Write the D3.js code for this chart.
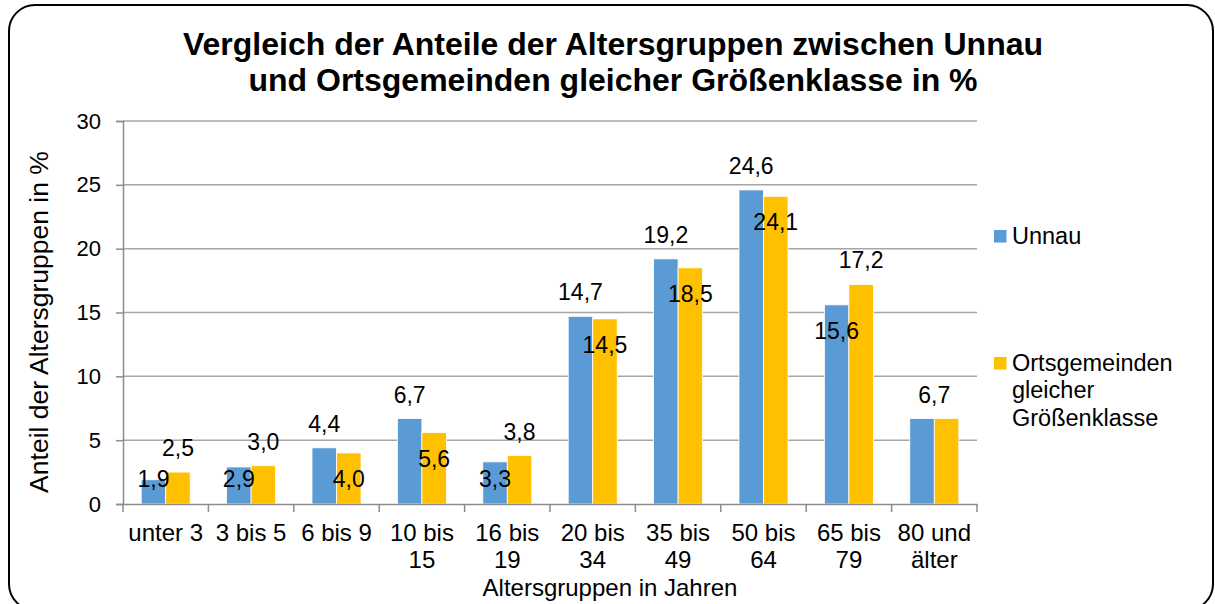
<!DOCTYPE html>
<html>
<head>
<meta charset="utf-8">
<script src="https://cdn.jsdelivr.net/npm/d3@7"></script>
<style>
  body { margin: 0; background: #fff; }
  svg { font-family: Arial, "Liberation Sans", sans-serif; }
</style>
</head>
<body>
<svg id="chart" width="1215" height="604"></svg>
<script>
var categories = ["unter 3", "3 bis 5", "6 bis 9", "10 bis 15", "16 bis 19", "20 bis 34", "35 bis 49", "50 bis 64", "65 bis 79", "80 und älter"]
var seriesNames = ["Unnau", "Ortsgemeinden gleicher Größenklasse"]
var unnau = [1.9, 2.9, 4.4, 6.7, 3.3, 14.7, 19.2, 24.6, 15.6, 6.7]
var orts = [2.5, 3.0, 4.0, 5.6, 3.8, 14.5, 18.5, 24.1, 17.2, 6.7]
// where excel put each data label
var unnauLabelPos = ["in", "in", "out", "out", "in", "out", "out", "out", "in", "none"]
var ortsLabelPos = ["out", "out", "in", "in", "out", "in", "in", "in", "out", "group"]
var yTicks = [0, 5, 10, 15, 20, 25, 30]
var colors = ["#5B9BD5", "#FFC000"]

var svg = d3.select("#chart")
var plot = { left: 123, right: 977, top: 121, bottom: 504 }

var x0 = d3.scaleBand().domain(categories).range([plot.left, plot.right]).paddingInner(0)
var x1 = d3.scaleBand().domain(seriesNames).range([0, x0.bandwidth()]).paddingOuter(0.743)
var y = d3.scaleLinear().domain([0, 30]).range([plot.bottom, plot.top])

// frame
svg.append("rect")
  .attr("x", 9).attr("y", 5)
  .attr("width", 1204).attr("height", 605)
  .attr("rx", 26)
  .style("fill", "none").style("stroke", "#000").style("stroke-width", 2)

// title
var title = svg.append("text")
  .attr("text-anchor", "middle")
  .style("font-size", "32px").style("font-weight", "bold")
title.append("tspan").attr("x", 613).attr("y", 55).text("Vergleich der Anteile der Altersgruppen zwischen Unnau")
title.append("tspan").attr("x", 613).attr("y", 91).text("und Ortsgemeinden gleicher Größenklasse in %")

// gridlines
svg.append("g").selectAll("line")
  .data(yTicks.slice(1))
  .enter().append("line")
  .attr("x1", plot.left).attr("x2", plot.right)
  .attr("y1", d => y(d)).attr("y2", d => y(d))
  .style("stroke", "#a6a6a6").style("stroke-width", 1.5)

// y axis
var yAxis = svg.append("g")
  .attr("transform", "translate(" + plot.left + ",0)")
  .call(d3.axisLeft(y).tickValues(yTicks).tickSize(7).tickPadding(15))
yAxis.select(".domain").style("stroke", "#8c8c8c").style("stroke-width", 1.5)
yAxis.selectAll(".tick line").style("stroke", "#8c8c8c").style("stroke-width", 1.5)
yAxis.selectAll(".tick text").style("font-size", "22px").style("fill", "#000").style("font-family", "Arial, 'Liberation Sans'")

svg.append("text")
  .attr("transform", "translate(48,322) rotate(-90)")
  .attr("text-anchor", "middle")
  .style("font-size", "26.5px")
  .text("Anteil der Altersgruppen in %")

// bars
var rows = categories.map((c, i) => ({ cat: c, vals: [unnau[i], orts[i]], pos: [unnauLabelPos[i], ortsLabelPos[i]] }))

var groups = svg.append("g").selectAll("g")
  .data(rows)
  .enter().append("g")
  .attr("transform", d => "translate(" + x0(d.cat) + ",0)")

groups.selectAll("rect")
  .data(d => d.vals.map((v, k) => ({ name: seriesNames[k], v: v, k: k })))
  .enter().append("rect")
  .attr("x", d => x1(d.name))
  .attr("width", x1.bandwidth())
  .attr("y", d => y(d.v))
  .attr("height", d => y(0) - y(d.v))
  .style("fill", d => colors[d.k])
  .style("stroke", "#fff").style("stroke-width", 0.8)

// x axis
var xAxis = svg.append("g")
  .attr("transform", "translate(0," + plot.bottom + ")")
  .call(d3.axisBottom(x0).tickSize(0).tickFormat(""))
xAxis.select(".domain").style("stroke", "#8c8c8c").style("stroke-width", 1.5)
xAxis.selectAll(".sep")
  .data(d3.range(categories.length + 1))
  .enter().append("line")
  .attr("x1", i => plot.left + i * x0.step()).attr("x2", i => plot.left + i * x0.step())
  .attr("y1", 0).attr("y2", 8)
  .style("stroke", "#8c8c8c").style("stroke-width", 1.5)

// category labels, wrapped like excel
var catText = svg.append("g").selectAll("text")
  .data(categories)
  .enter().append("text")
  .attr("text-anchor", "middle")
  .style("font-size", "24px")
  .attr("y", 541)
  .text(d => d)
catText.each(function(d) {
  var t = d3.select(this)
  var cx = x0(d) + x0.bandwidth() / 2
  t.attr("x", cx)
  if (this.getComputedTextLength() > x0.bandwidth() - 2) {
    var cut = d.lastIndexOf(" ")
    t.text(null)
    t.append("tspan").attr("x", cx).attr("y", 541).text(d.slice(0, cut))
    t.append("tspan").attr("x", cx).attr("y", 568).text(d.slice(cut + 1))
  }
})

svg.append("text")
  .attr("x", 610).attr("y", 596)
  .attr("text-anchor", "middle")
  .style("font-size", "24px")
  .text("Altersgruppen in Jahren")

// data labels
var fmt = v => d3.format(".1f")(v).replace(".", ",")
groups.selectAll(".lbl")
  .data(d => d.vals.map((v, k) => ({ name: seriesNames[k], v: v, k: k, pos: d.pos[k] })).filter(d => d.pos != "none"))
  .enter().append("text")
  .attr("class", "lbl")
  .attr("text-anchor", "middle")
  .attr("dy", "0.35em")
  .style("font-size", "23px")
  .attr("x", d => d.pos == "group" ? x0.bandwidth() / 2 : x1(d.name) + x1.bandwidth() / 2)
  .attr("y", d => d.pos == "in" ? Math.min(y(d.v) + 26, y(0) - 25) : y(d.v) - 24)
  .text(d => fmt(d.v))

// legend
var legend = svg.append("g")
var lg = [
  { lines: ["Unnau"], top: 230 },
  { lines: ["Ortsgemeinden", "gleicher", "Größenklasse"], top: 357 }
]
lg.forEach(function(d, k) {
  legend.append("rect")
    .attr("x", 994).attr("y", d.top)
    .attr("width", 12.5).attr("height", 12.5)
    .style("fill", colors[k])
  var t = legend.append("text").style("font-size", "23.5px")
  d.lines.forEach(function(l, j) {
    t.append("tspan").attr("x", 1012).attr("y", d.top + 13.5 + j * 27.5).text(l)
  })
})
</script>
</body>
</html>
